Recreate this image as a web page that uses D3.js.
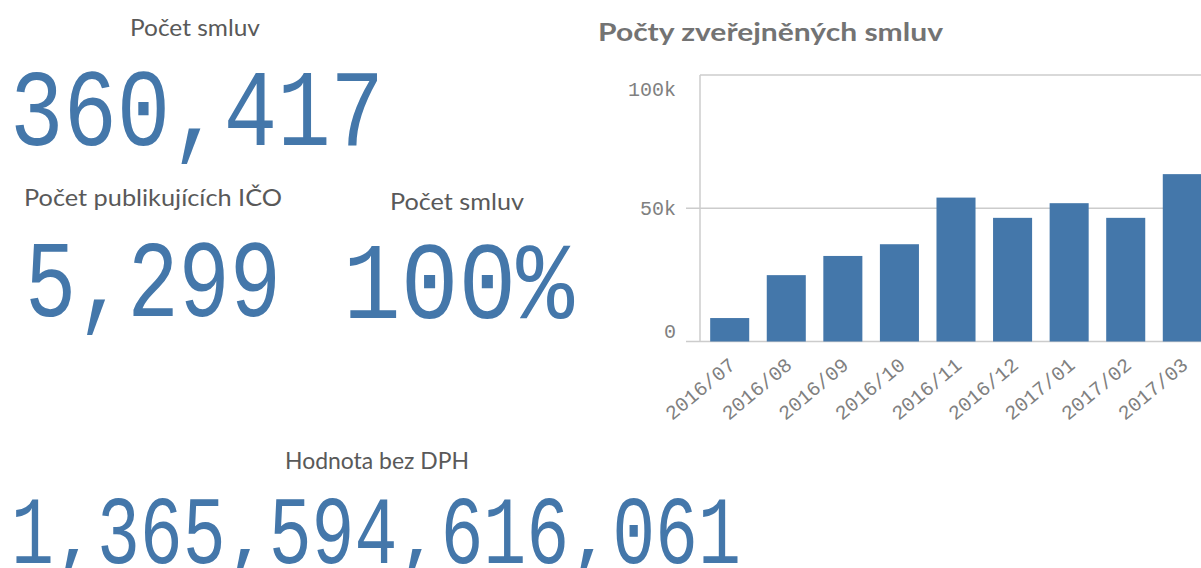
<!DOCTYPE html>
<html>
<head>
<meta charset="utf-8">
<script src="https://cdn.jsdelivr.net/npm/d3@7"></script>
<style>
  body { margin: 0; background: #fff; overflow: hidden; }
  svg { display: block; }
</style>
</head>
<body>
<svg id="chart" width="1201" height="568"></svg>
<script>
// monthly contract counts
var months = ['2016/07', '2016/08', '2016/09', '2016/10', '2016/11', '2016/12', '2017/01', '2017/02', '2017/03'];
var contracts = [8800, 24900, 32100, 36500, 54000, 46400, 51900, 46400, 62800];
var yTicks = [0, 50000, 100000];
var yTickLabels = ['0', '50k', '100k'];

// KPI boxes
var kpiLabels = ['Počet smluv', 'Počet publikujících IČO', 'Počet smluv', 'Hodnota bez DPH'];
var kpiValues = ['360,417', '5,299', '100%', '1,365,594,616,061'];

var svg = d3.select('#chart');
var blue = '#4477aa';
var mono = '"Liberation Mono", "DejaVu Sans Mono", monospace';
var sans = 'Lato, "Open Sans", sans-serif';

// label box + value box for each KPI
var kpiBoxes = [
  {l0: 130, l1: 260, ly: 36, x0: 10, x1: 384, base: 145},
  {l0: 24, l1: 282, ly: 206, x0: 25, x1: 281, base: 316},
  {l0: 390, l1: 524, ly: 210, x0: 343, x1: 574, base: 318},
  {l0: 285, l1: 469, ly: 469, x0: 11, x1: 741, base: 563}
];

kpiBoxes.forEach(function(b, i) {
  svg.append('text')
    .attr('x', b.l0).attr('y', b.ly)
    .attr('textLength', b.l1 - b.l0)
    .attr('lengthAdjust', 'spacingAndGlyphs')
    .style('font-family', sans).style('font-size', '23px')
    .style('fill', '#595959')
    .text(kpiLabels[i]);

  svg.append('text')
    .attr('x', b.x0).attr('y', b.base)
    .attr('textLength', b.x1 - b.x0)
    .attr('lengthAdjust', 'spacingAndGlyphs')
    .style('font-family', mono)
    .style('font-size', i === 3 ? '96px' : '110px')
    .style('fill', blue)
    .text(kpiValues[i]);
});

// bar chart
svg.append('text')
  .attr('x', 598).attr('y', 41)
  .attr('textLength', 345)
  .attr('lengthAdjust', 'spacingAndGlyphs')
  .style('font-family', sans).style('font-size', '25px')
  .style('font-weight', 'bold')
  .style('fill', '#737373')
  .text('Počty zveřejněných smluv');

var x = d3.scaleBand()
  .domain(months)
  .range([700, 1212])
  .paddingInner(0.31)
  .paddingOuter(0.18);

var y = d3.scaleLinear()
  .domain([0, 100000])
  .range([341.5, 75]);

var plot = svg.append('g');

// grid + ticks
plot.selectAll('line.grid')
  .data(yTicks)
  .enter().append('line')
  .attr('class', 'grid')
  .attr('x1', (d) => d === 100000 ? 700 : 686)
  .attr('x2', 1201)
  .attr('y1', (d) => y(d))
  .attr('y2', (d) => y(d))
  .attr('stroke', '#cccccc')
  .attr('stroke-width', 1.5);

plot.append('line')
  .attr('x1', 700).attr('x2', 700)
  .attr('y1', y(100000)).attr('y2', y(0))
  .attr('stroke', '#cccccc')
  .attr('stroke-width', 1.5);

// labels nudged inside the plot at the ends, as in the original
plot.selectAll('text.ytick')
  .data(yTicks)
  .enter().append('text')
  .attr('class', 'ytick')
  .attr('x', 676)
  .attr('y', (d, i) => i === 0 ? y(d) - 4 : i === 2 ? y(d) + 21 : y(d) + 7)
  .attr('text-anchor', 'end')
  .style('font-family', mono).style('font-size', '20px')
  .style('fill', '#808080')
  .text((d, i) => yTickLabels[i]);

plot.selectAll('rect')
  .data(contracts)
  .enter().append('rect')
  .attr('x', (d, i) => x(months[i]))
  .attr('y', (d) => y(d))
  .attr('width', x.bandwidth())
  .attr('height', (d) => y(0) - y(d))
  .attr('fill', blue);

plot.selectAll('text.xtick')
  .data(months)
  .enter().append('text')
  .attr('class', 'xtick')
  .attr('text-anchor', 'end')
  .attr('transform', (d) => 'translate(' + (x(d) + x.bandwidth() / 2 + 7) + ',' + 367 + ') rotate(-40)')
  .style('font-family', mono).style('font-size', '20px')
  .style('fill', '#808080')
  .text((d) => d);
</script>
</body>
</html>
